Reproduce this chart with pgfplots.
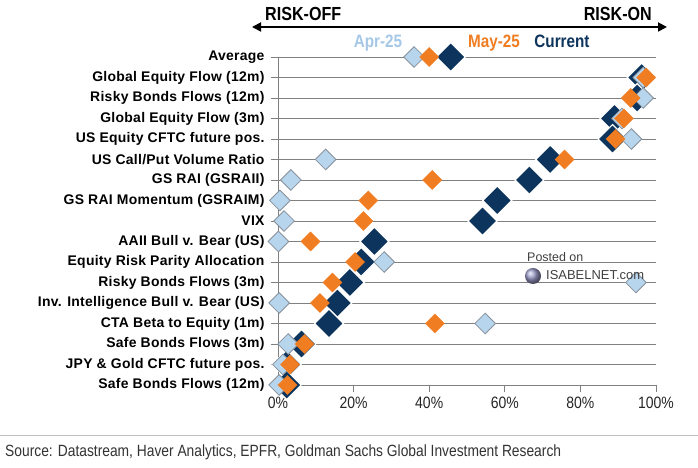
\documentclass[border=0pt]{standalone}
\usepackage{fontspec}
\setmainfont{Liberation Sans}
\newfontfamily\narrow[FakeStretch=0.85]{Liberation Sans}
\newfontfamily\lab[LetterSpace=2]{Liberation Sans}
\usepackage{pgfplots}
\pgfplotsset{compat=1.18}
\usetikzlibrary{arrows.meta}
\definecolor{navy}{RGB}{12,52,92}
\definecolor{orng}{RGB}{240,125,33}
\definecolor{lblue}{RGB}{184,213,238}
\definecolor{lbluetxt}{RGB}{165,200,232}
\definecolor{bgray}{RGB}{135,145,155}
\definecolor{gridgray}{RGB}{128,128,128}
\begin{document}
\begin{tikzpicture}[x=1bp,y=1bp]
\path[use as bounding box, fill=white] (0,0) rectangle (698,468);
% header
\draw[line width=1.8bp, {Triangle[length=9bp,width=9bp]}-{Triangle[length=9bp,width=9bp]}] (252,441) -- (667,441);
\node[anchor=base west, inner sep=0] at (265,447) {\narrow\bfseries\fontsize{19}{21}\selectfont RISK-OFF};
\node[anchor=base east, inner sep=0] at (652,447) {\narrow\bfseries\fontsize{19}{21}\selectfont RISK-ON};
\node[anchor=base, inner sep=0, text=lbluetxt] at (378,420) {\narrow\bfseries\fontsize{18}{20}\selectfont Apr-25};
\node[anchor=base, inner sep=0, text=orng] at (494,420) {\narrow\bfseries\fontsize{18}{20}\selectfont May-25};
\node[anchor=base, inner sep=0, text=navy] at (562,420) {\narrow\bfseries\fontsize{18}{20}\selectfont Current};
\begin{axis}[
  at={(278bp,83bp)}, anchor=south west,
  scale only axis, width=378bp, height=328bp,
  xmin=0, xmax=100, ymin=0, ymax=16,
  clip=false,
  axis x line=bottom, axis y line=left,
  axis line style={gridgray, line width=0.8bp, -},
  tick align=outside, major tick length=7bp,
  tick style={gridgray, line width=0.8bp},
  ymajorgrids, grid style={gridgray, line width=0.8bp},
  xtick={0,20,40,60,80,100},
  xticklabels={0\%,20\%,40\%,60\%,80\%,100\%},
  xticklabel style={font=\narrow\fontsize{16.5}{18}\selectfont, text=black!85, yshift=-2bp},
  ytick={0,...,16},
  yticklabels={Safe Bonds Flows (12m),JPY \& Gold CFTC future pos.,Safe Bonds Flows (3m),CTA Beta to Equity (1m),Inv. Intelligence Bull v. Bear (US),Risky Bonds Flows (3m),Equity Risk Parity Allocation,AAII Bull v. Bear (US),VIX,GS RAI Momentum (GSRAIM),GS RAI (GSRAII),US Call/Put Volume Ratio,US Equity CFTC future pos.,Global Equity Flow (3m),Risky Bonds Flows (12m),Global Equity Flow (12m),Average},
  yticklabel style={font=\lab\bfseries\fontsize{14}{16}\selectfont, text=black, xshift=-3bp},
]
\addplot[only marks, mark=square*, mark size=10.2bp, mark options={rotate=45, fill=navy, draw=white, line width=1.2bp}] coordinates {
(45.7,16) (96.2,15) (95.0,14) (89.0,13) (88.5,12) (72.0,11) (66.5,10) (58.0,9) (54.1,8) (25.5,7) (22.0,6) (19.0,5) (15.7,4) (13.5,3) (6.2,2) (2.3,1) (2.3,0)
};
\addplot[only marks, mark=square*, mark size=7.3bp, mark options={rotate=45, fill=lblue, draw=bgray, line width=0.8bp}] coordinates {
(36.0,16) (96.6,15) (96.6,14) (91.0,13) (93.5,12) (12.6,11) (3.4,10) (0.5,9) (1.6,8) (0.1,7) (28.1,6) (94.7,5) (0.3,4) (54.8,3) (2.7,2) (1.3,1) (0.3,0)
};
\addplot[only marks, mark=square*, mark size=6.8bp, mark options={rotate=45, fill=orng, draw=orng, line width=0.2bp}] coordinates {
(40.0,16) (97.4,15) (93.3,14) (91.5,13) (89.3,12) (75.8,11) (40.8,10) (23.9,9) (22.6,8) (8.6,7) (20.4,6) (14.4,5) (11.1,4) (41.5,3) (7.0,2) (3.2,1) (2.5,0)
};
\end{axis}
% watermark
\node[anchor=base west, inner sep=0, text=black!75] at (527,206) {\fontsize{12.5}{14}\selectfont Posted on};
\shade[ball color=blue!30!gray!60] (533,192) circle (8);
\node[anchor=base west, inner sep=0, text=black!75] at (546,188) {\fontsize{13}{15}\selectfont ISABELNET.com};
% source
\draw[black!25, line width=0.8bp] (0,33) -- (698,33);
\node[anchor=base west, inner sep=0, text=black!80] at (5,11) {\narrow\fontsize{16.3}{18}\selectfont Source: Datastream, Haver Analytics, EPFR, Goldman Sachs Global Investment Research};
\end{tikzpicture}
\end{document}
